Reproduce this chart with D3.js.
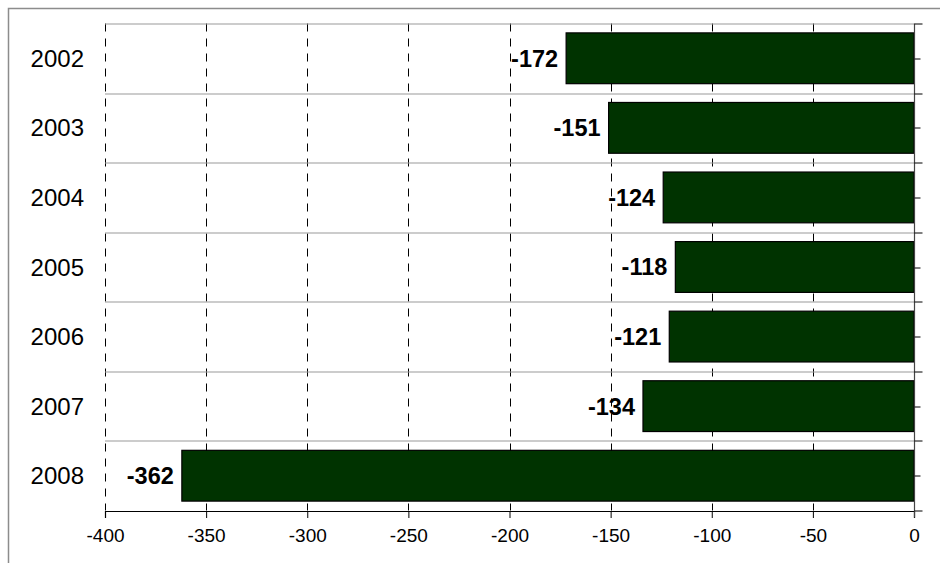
<!DOCTYPE html>
<html>
<head>
<meta charset="utf-8">
<script src="https://cdn.jsdelivr.net/npm/d3@7"></script>
<style>
  body { margin: 0; background: #fff; }
  svg { display: block; font-family: "Liberation Sans", Arial, sans-serif; }
</style>
</head>
<body>
<svg id="chart" width="940" height="563"></svg>
<script>
// Chart data
const years = ["2002", "2003", "2004", "2005", "2006", "2007", "2008"];
const values = [-172, -151, -124, -118, -121, -134, -362];
const xTicks = [-400, -350, -300, -250, -200, -150, -100, -50, 0];

const margin = { top: 23.5, right: 26, bottom: 52.5, left: 105 };
const totalWidth = 940, totalHeight = 563;
const width = totalWidth - margin.left - margin.right;
const height = totalHeight - margin.top - margin.bottom;

const root = d3.select("#chart");

// Outer frame (runs off the right and bottom edges)
root.append("rect")
  .attr("x", 8.5).attr("y", 8.5)
  .attr("width", 960).attr("height", 580)
  .attr("fill", "none")
  .attr("stroke", "#8c8c8c")
  .attr("stroke-width", 1.5);

const svg = root.append("g")
  .attr("transform", `translate(${margin.left},${margin.top})`);

// Scales
const xScale = d3.scaleLinear().domain([-400, 0]).range([0, width]);
const yScale = d3.scaleBand().domain(years).range([0, height]).paddingInner(0).paddingOuter(0);
const barPad = 0.135;

// Dashed vertical gridlines
svg.selectAll(".grid")
  .data(xTicks.filter(d => d !== 0))
  .enter().append("line")
  .attr("x1", d => Math.round(xScale(d)) + 0.5)
  .attr("x2", d => Math.round(xScale(d)) + 0.5)
  .attr("y1", 0)
  .attr("y2", height)
  .attr("stroke", "#000")
  .attr("stroke-width", 1)
  .attr("stroke-dasharray", "8,7");

// Row separators (category boundaries) and top border
svg.selectAll(".sep")
  .data(years)
  .enter().append("line")
  .attr("x1", 0)
  .attr("x2", width)
  .attr("y1", d => Math.round(yScale(d)) + 0.5)
  .attr("y2", d => Math.round(yScale(d)) + 0.5)
  .attr("stroke", "#999")
  .attr("stroke-width", 1.2);

// Bars
svg.selectAll(".bar")
  .data(values)
  .enter().append("rect")
  .attr("x", d => xScale(d))
  .attr("y", (d, i) => yScale(years[i]) + yScale.bandwidth() * barPad)
  .attr("width", d => xScale(0) - xScale(d))
  .attr("height", yScale.bandwidth() * (1 - 2 * barPad))
  .attr("fill", "#003300")
  .attr("stroke", "#000")
  .attr("stroke-width", 1.2);

// Value labels
svg.selectAll(".val")
  .data(values)
  .enter().append("text")
  .attr("x", d => xScale(d) - 8)
  .attr("y", (d, i) => yScale(years[i]) + yScale.bandwidth() / 2)
  .attr("dy", "0.36em")
  .attr("text-anchor", "end")
  .style("font-size", "23.5px")
  .style("font-weight", "bold")
  .attr("fill", "#000")
  .text(d => String(d));

// Bottom axis
const xAxis = svg.append("g")
  .attr("transform", `translate(0,${height + 0.5})`)
  .call(d3.axisBottom(xScale).tickValues(xTicks).tickSize(7).tickPadding(11).tickFormat(d => String(d)));
xAxis.select(".domain").attr("stroke", "#000").attr("stroke-width", 1.2);
xAxis.selectAll(".tick line").attr("stroke", "#000");
xAxis.selectAll("text")
  .style("font-family", "'Liberation Sans', Arial, sans-serif")
  .style("font-size", "19px")
  .attr("fill", "#000");

// Right-hand category axis at zero
const yAxis = svg.append("g")
  .attr("transform", `translate(${Math.round(xScale(0)) + 0.5},0)`);
yAxis.append("line")
  .attr("y1", 0).attr("y2", height + 7)
  .attr("stroke", "#444").attr("stroke-width", 1.2);
yAxis.selectAll(".bt")
  .data(years.concat(["end"]))
  .enter().append("line")
  .attr("x1", 0).attr("x2", 8)
  .attr("y1", (d, i) => Math.round(i * yScale.step()) + 0.5)
  .attr("y2", (d, i) => Math.round(i * yScale.step()) + 0.5)
  .attr("stroke", "#000");
yAxis.selectAll(".ct")
  .data(years)
  .enter().append("line")
  .attr("x1", 0).attr("x2", 6)
  .attr("y1", d => Math.round(yScale(d) + yScale.bandwidth() / 2) + 0.5)
  .attr("y2", d => Math.round(yScale(d) + yScale.bandwidth() / 2) + 0.5)
  .attr("stroke", "#000");

// Category labels on the left
svg.selectAll(".cat")
  .data(years)
  .enter().append("text")
  .attr("x", -21)
  .attr("y", d => yScale(d) + yScale.bandwidth() / 2)
  .attr("dy", "0.36em")
  .attr("text-anchor", "end")
  .style("font-size", "24px")
  .attr("fill", "#000")
  .text(d => d);
</script>
</body>
</html>
